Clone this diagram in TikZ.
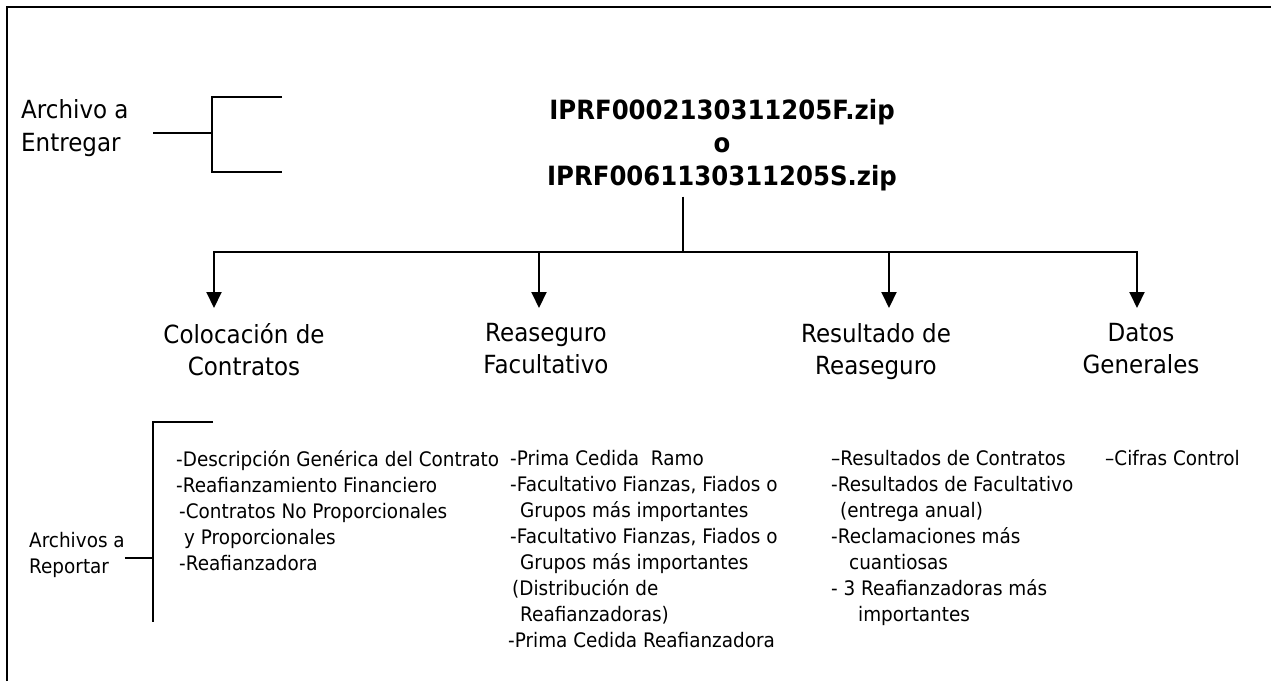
\documentclass[tikz,border=0pt]{standalone}
\usepackage{fontspec}
\setmainfont{DejaVu Sans}[FakeStretch=0.92]
\usetikzlibrary{positioning,calc,arrows.meta}
\tikzstyle{head}=[align=center,anchor=north,inner sep=0pt,font=\fontsize{25}{32}\selectfont]
\tikzstyle{side}=[align=left,anchor=north west,inner sep=0pt]
\tikzstyle{lst}=[align=left,anchor=north west,inner sep=0pt,font=\fontsize{20}{26}\selectfont]
\tikzstyle{arr}=[-{Triangle[length=16pt,width=15pt]},line width=2pt,shorten >=15pt]
\tikzstyle{bus}=[line width=2pt,line cap=rect]
\tikzstyle{brk}=[line width=1.5pt]

\begin{document}
\begin{tikzpicture}[x=1pt,y=-1pt]
  \useasboundingbox (0,0) rectangle (1271,681);
  \draw[line width=2.5pt] (7,681) -- (7,7) -- (1271,7);

  % archivo a entregar
  \node (file) at (722,99.5) [anchor=north,align=center,inner sep=0pt,font=\fontsize{26.5}{33}\selectfont\bfseries] {IPRF0002130311205F.zip\\o\\IPRF0061130311205S.zip};
  \node (AE) at (21,99) [side,font=\fontsize{25}{33}\selectfont] {Archivo a\\Entregar};
  \draw[brk] (153,133) -- (212,133);
  \draw[brk] (282,97) -- (212,97) -- (212,172) -- (282,172);

  % archivos
  \node (H1) at (244,323) [head] {Colocación de\\Contratos};
  \node (H2) at (546,323) [head] {Reaseguro\\Facultativo};
  \node (H3) at (876,323) [head] {Resultado de\\Reaseguro};
  \node (H4) at (1141,323) [head] {Datos\\Generales};

  \coordinate (b1) at (214,252);
  \coordinate (b2) at (539,252);
  \coordinate (b3) at (889,252);
  \coordinate (b4) at (1137,252);
  \coordinate (bj) at (683,252);
  \draw[line width=1.2pt,shorten <=5pt] (bj |- file.south) -- (bj);
  \draw[bus] (b1) -- (b4);
  \foreach \i in {1,...,4}
    \draw[arr] (b\i) -- (b\i |- H\i.north);

  % archivos a reportar
  \node (AR) at (29,532) [side,font=\fontsize{20}{26}\selectfont] {Archivos a\\Reportar};
  \coordinate (rb) at (153,558);
  \draw[brk] (213,422) -- (153,422) -- (153,622);
  \draw[brk] (AR.east |- rb) -- (rb);

  \node (L1) at (176,450) [lst] {-Descripción Genérica del Contrato\\-Reafianzamiento Financiero\\\hspace*{3pt}-Contratos No Proporcionales\\\hspace*{8pt}y Proporcionales\\\hspace*{3pt}-Reafianzadora};
  \node (L2) at (510,450) [lst] {-Prima Cedida\ \ Ramo\\-Facultativo Fianzas, Fiados o\\\hspace*{10pt}Grupos más importantes\\-Facultativo Fianzas, Fiados o\\\hspace*{10pt}Grupos más importantes\\\hspace*{2pt}(Distribución de\\\hspace*{10pt}Reafianzadoras)\\\hspace*{-2pt}-Prima Cedida Reafianzadora};
  \node (L3) at (831,450) [lst] {–Resultados de Contratos\\-Resultados de Facultativo\\\hspace*{9pt}(entrega anual)\\-Reclamaciones más\\\hspace*{18pt}cuantiosas\\- 3 Reafianzadoras más\\\hspace*{27pt}importantes};
  \node (L4) at (1105,450) [lst] {–Cifras Control};
\end{tikzpicture}
\end{document}
